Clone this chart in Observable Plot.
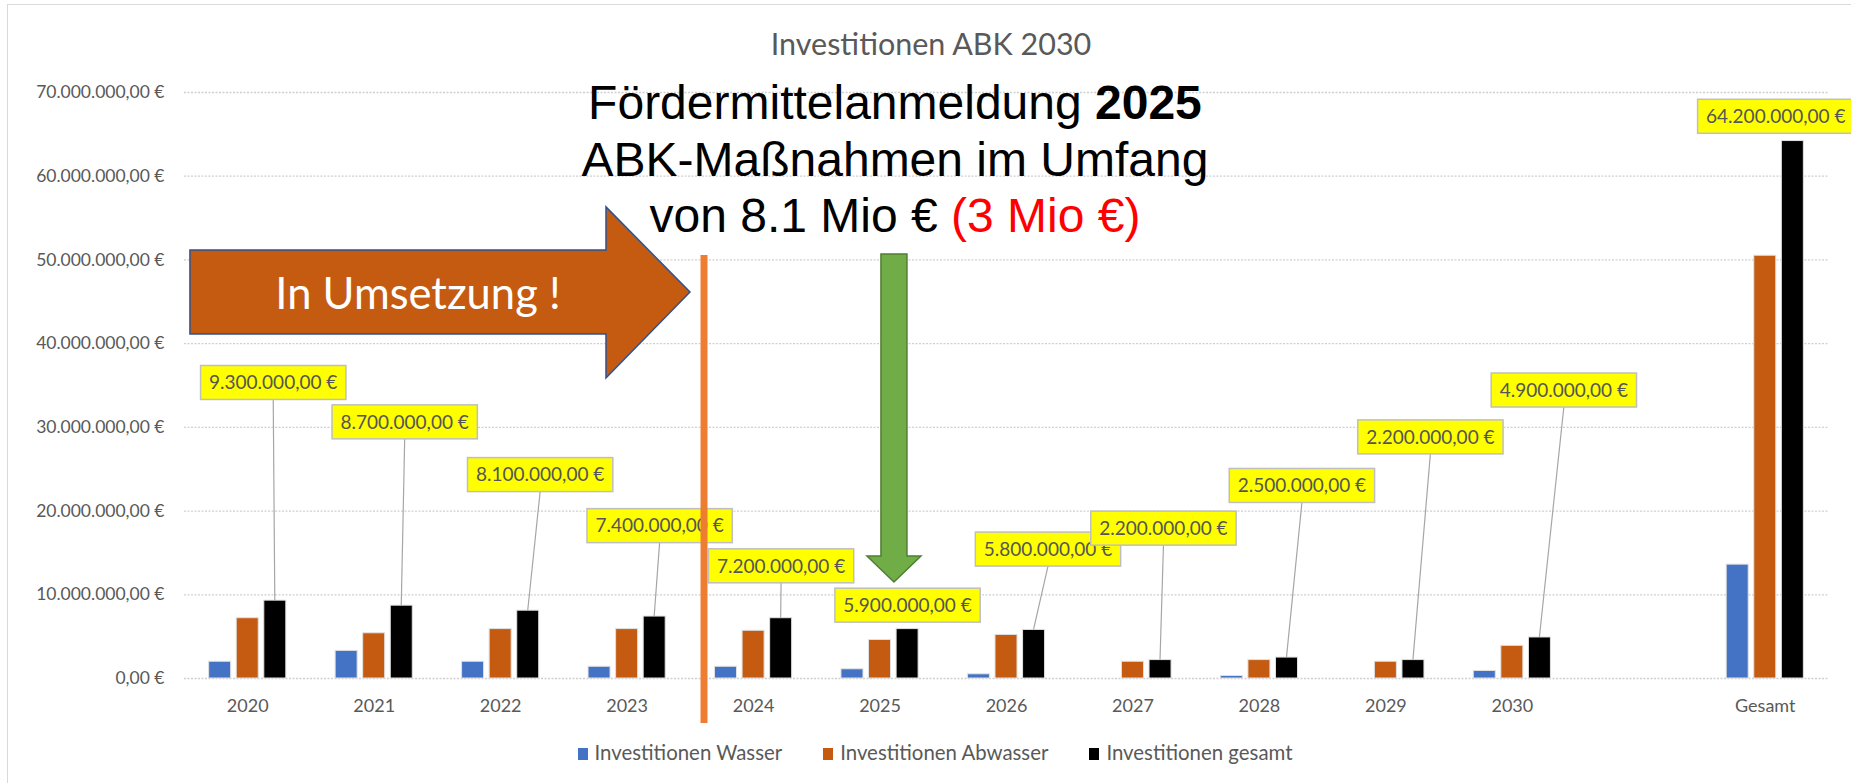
<!DOCTYPE html>
<html>
<head>
<meta charset="utf-8">
<script src="https://cdn.jsdelivr.net/npm/d3@7"></script>
<script src="https://cdn.jsdelivr.net/npm/@observablehq/plot@0.6"></script>
<style>
  html, body { margin:0; padding:0; background:#fff; width:1851px; height:783px; overflow:hidden; position:relative; font-family:Lato, sans-serif; }
  #frame { position:absolute; left:7px; top:4px; width:1870px; height:800px; border-left:1.5px solid #d9d9d9; border-top:1.5px solid #d9d9d9; }
  #title { position:absolute; top:28px; left:931px; transform:translateX(-50%); font-size:30.5px; line-height:30px; color:#595959; white-space:nowrap; }
  #chart { position:absolute; left:0; top:62px; }
  #legend { position:absolute; top:742px; left:0; width:1870px; display:flex; justify-content:center; gap:41px; font-size:20.4px; line-height:20px; color:#595959; white-space:nowrap; }
  .sw { display:inline-block; width:10px; height:12px; margin-right:7px; }
</style>
</head>
<body>
<div id="frame"></div>
<div id="title">Investitionen ABK 2030</div>
<div id="chart"></div>
<div id="legend"></div>
<script>
// ---- data (Mio €) ----
const categories = ["2020","2021","2022","2023","2024","2025","2026","2027","2028","2029","2030"," ","Gesamt"];
const years      = ["2020","2021","2022","2023","2024","2025","2026","2027","2028","2029","2030","Gesamt"];
const wasser     = [2.0, 3.3, 2.0, 1.4, 1.4, 1.1, 0.5, 0.0, 0.3, 0.0, 0.9, 13.6];
const abwasser   = [7.2, 5.4, 5.9, 5.9, 5.7, 4.6, 5.2, 2.0, 2.2, 2.0, 3.9, 50.5];
const gesamt     = [9.3, 8.7, 8.1, 7.4, 7.2, 5.9, 5.8, 2.2, 2.5, 2.2, 4.9, 64.2];
const seriesNames  = ["Investitionen Wasser", "Investitionen Abwasser", "Investitionen gesamt"];
const seriesColors = ["#4472C4", "#C55A11", "#000000"];
const yTicks = [0, 10000000, 20000000, 30000000, 40000000, 50000000, 60000000, 70000000];

// ---- label layout (box centre: px offset from category centre, value in Mio €) ----
const labelDx     = [26, 31, 40, 33, 28, 28, 42, 31, 43, 45, 52, 11];
const labelCentre = [35.3, 30.6, 24.3, 18.2, 13.4, 8.7, 15.4, 17.9, 23.0, 28.8, 34.4, 67.1];

const euro = d3.formatLocale({decimal: ",", thousands: ".", grouping: [3], currency: ["", " €"]}).format("$,.2f");

// ---- geometry ----
const W = 1851, H = 680, mL = 184, mR = 23, mT = 30, mB = 64;
const pIn = 0.39, pOut = 0.195;
const step = (W - mL - mR) / (categories.length - pIn + 2 * pOut);
const bw = step * (1 - pIn);
const barW = 22;
const gap = (bw - 3 * barW) / 2;
const insets = [
  {insetLeft: 0, insetRight: bw - barW},
  {insetLeft: barW + gap, insetRight: barW + gap},
  {insetLeft: bw - barW, insetRight: 0}
];

const seriesValues = [wasser, abwasser, gesamt];
const table = years.flatMap((c, i) => seriesValues.map((vals, s) => ({cat: c, s, v: vals[i] * 1e6})));

const measure = (() => {
  const ctx = document.createElement("canvas").getContext("2d");
  return (t, font) => { ctx.font = font; return ctx.measureText(t).width; };
})();

function annotations(index, scales, values, dims) {
  const x = scales.x, y = scales.y;
  const bwid = typeof x.bandwidth === "function" ? x.bandwidth() : bw;
  const st = x(categories[1]) - x(categories[0]);
  const x0 = dims.marginLeft;
  const xk = k => x0 + k * st;
  const cx = c => x(c) + bwid / 2;
  const Y = m => y(m * 1e6);
  const g = d3.create("svg:g");

  // leader lines
  const lf = "19px Lato";
  years.forEach((c, i) => {
    const bx = cx(c) + labelDx[i], by = Y(labelCentre[i]);
    const top = Y(gesamt[i]);
    const blackX = cx(c) + bwid / 2 - barW / 2;
    if (top - (by + 17) > 10) {
      g.append("line").attr("x1", bx).attr("y1", by + 17).attr("x2", blackX).attr("y2", top)
        .attr("stroke", "#a6a6a6").attr("stroke-width", 1.2);
    }
  });
  // label boxes
  years.forEach((c, i) => {
    const bx = cx(c) + labelDx[i], by = Y(labelCentre[i]);
    const t = euro(gesamt[i] * 1e6);
    const w = measure(t, lf) + 17;
    g.append("rect").attr("x", bx - w / 2).attr("y", by - 17).attr("width", w).attr("height", 34)
      .attr("fill", "#FFFF00").attr("stroke", "#bfbfbf").attr("stroke-width", 1.5);
    g.append("text").attr("x", bx).attr("y", by).attr("dy", "0.36em").attr("text-anchor", "middle")
      .attr("font-family", "Lato").attr("font-size", 19).attr("fill", "#555555").text(t);
  });

  // orange block arrow "In Umsetzung !"
  const ax = [0.047, 3.337, 4.001].map(xk);
  const ay = [56.27, 51.13, 46.11, 41.09, 35.84].map(Y);
  const arrowPts = [[ax[0], ay[1]], [ax[1], ay[1]], [ax[1], ay[0]], [ax[2], ay[2]], [ax[1], ay[4]], [ax[1], ay[3]], [ax[0], ay[3]]];
  g.append("polygon").attr("points", arrowPts.map(p => p.join(",")).join(" "))
    .attr("fill", "#C55A11").attr("stroke", "#2F528F").attr("stroke-width", 1.5);
  g.append("text").attr("x", xk(1.85)).attr("y", Y(44.08)).attr("text-anchor", "middle")
    .attr("font-family", "Lato").attr("font-size", 43.5).attr("fill", "#ffffff").text("In Umsetzung !");

  // orange vertical line
  g.append("line").attr("x1", xk(4.112)).attr("x2", xk(4.112)).attr("y1", Y(50.53)).attr("y2", Y(-5.38))
    .attr("stroke", "#ED7D31").attr("stroke-width", 7);

  // green down arrow
  const gc = xk(5.614), gTop = Y(50.65), gBase = Y(14.57), gTip = Y(11.47);
  const gPts = [[gc - 13, gTop], [gc + 13, gTop], [gc + 13, gBase], [gc + 27, gBase], [gc, gTip], [gc - 27, gBase], [gc - 13, gBase]];
  g.append("polygon").attr("points", gPts.map(p => p.join(",")).join(" "))
    .attr("fill", "#70AD47").attr("stroke", "#507E32").attr("stroke-width", 1.5);

  // big annotation text
  const tx = xk(5.622);
  const big = g.append("g").attr("font-family", "'Liberation Sans', Arial, sans-serif").attr("font-size", 48)
    .attr("fill", "#000").attr("text-anchor", "middle");
  const l1 = big.append("text").attr("x", tx).attr("y", Y(66.8));
  l1.append("tspan").text("Fördermittelanmeldung ");
  l1.append("tspan").attr("font-weight", "bold").text("2025");
  big.append("text").attr("x", tx).attr("y", Y(59.95)).text("ABK-Maßnahmen im Umfang");
  const l3 = big.append("text").attr("x", tx).attr("y", Y(53.25));
  l3.append("tspan").text("von 8.1 Mio € ");
  l3.append("tspan").attr("fill", "#FF0000").text("(3 Mio €)");

  return g.node();
}

const plot = Plot.plot({
  width: W, height: H,
  marginTop: mT, marginBottom: mB, marginLeft: mL, marginRight: mR,
  style: {fontFamily: "Lato, sans-serif", background: "transparent", color: "#595959", overflow: "visible"},
  x: {type: "band", domain: categories, paddingInner: pIn, paddingOuter: pOut, round: false, label: null},
  y: {domain: [0, 70000000], label: null},
  marks: [
    Plot.gridY(yTicks, {stroke: "#d0d0d0", strokeOpacity: 1, strokeWidth: 1.3, strokeDasharray: "2,1.5"}),
    Plot.axisY(yTicks, {tickSize: 0, tickPadding: 20, fontSize: 17.5, tickFormat: euro, label: null, fill: "#595959"}),
    Plot.axisX({tickSize: 0, tickPadding: 21, fontSize: 18, label: null, fill: "#595959"}),
    ...seriesNames.map((name, s) => Plot.barY(table.filter(d => d.s === s), {
      x: "cat", y: "v", fill: seriesColors[s], stroke: "#e0e0e0", strokeWidth: 1, ...insets[s]
    })),
    annotations
  ]
});
document.getElementById("chart").appendChild(plot);

// legend
const legend = d3.select("#legend");
seriesNames.forEach((n, s) => {
  const it = legend.append("div");
  it.append("span").attr("class", "sw").style("background", seriesColors[s]);
  it.append("span").text(n);
});
</script>
</body>
</html>
